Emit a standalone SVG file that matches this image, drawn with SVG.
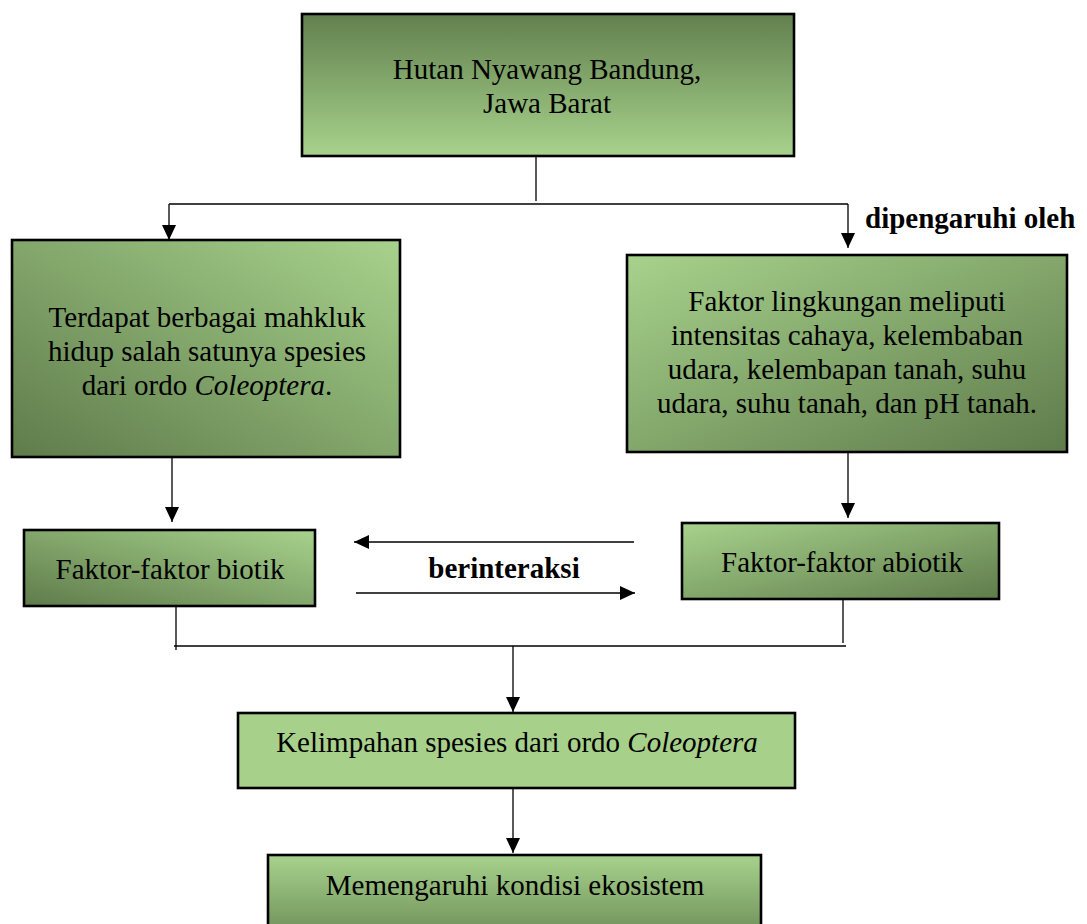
<svg xmlns="http://www.w3.org/2000/svg" width="1087" height="924" viewBox="0 0 1087 924">
  <defs>
    <linearGradient id="gV" x1="0" y1="0" x2="0" y2="1">
      <stop offset="0" stop-color="#62804e"/>
      <stop offset="1" stop-color="#a7d28c"/>
    </linearGradient>
    <linearGradient id="gVrev" x1="0" y1="0" x2="0" y2="1">
      <stop offset="0" stop-color="#a7d28c"/>
      <stop offset="1" stop-color="#62804e"/>
    </linearGradient>
    <linearGradient id="gBLdark" x1="0" y1="1" x2="1" y2="0">
      <stop offset="0" stop-color="#5f7b4b"/>
      <stop offset="1" stop-color="#a7d28c"/>
    </linearGradient>
    <linearGradient id="gBRdark" x1="0" y1="0" x2="1" y2="1">
      <stop offset="0" stop-color="#a7d28c"/>
      <stop offset="1" stop-color="#5f7b4b"/>
    </linearGradient>
    <marker id="arr" markerUnits="userSpaceOnUse" markerWidth="16" markerHeight="14" refX="15" refY="7" orient="auto">
      <path d="M0,0 L15,7 L0,14 z" fill="#000"/>
    </marker>
  </defs>
  <style>
    .box { stroke: #000; stroke-width: 2.6; }
    .t { font-family: "Liberation Serif", "Times New Roman", serif; font-size: 29px; fill: #000; text-anchor: middle; }
    .b { font-family: "Liberation Serif", "Times New Roman", serif; font-size: 29px; font-weight: bold; fill: #000; }
    .c { stroke: #000; stroke-width: 1.3; fill: none; }
    .i { font-style: italic; }
  </style>

  <g id="connectors">
    <line class="c" x1="536" y1="156" x2="536" y2="201"/>
    <line class="c" x1="169" y1="204" x2="848" y2="204"/>
    <line class="c" x1="169" y1="204" x2="169" y2="240" marker-end="url(#arr)"/>
    <line class="c" x1="848" y1="204" x2="848" y2="248" marker-end="url(#arr)"/>
    <line class="c" x1="172" y1="457" x2="172" y2="522" marker-end="url(#arr)"/>
    <line class="c" x1="848" y1="452" x2="848" y2="518" marker-end="url(#arr)"/>
    <line class="c" x1="634" y1="542" x2="354" y2="542" marker-end="url(#arr)"/>
    <line class="c" x1="356" y1="593" x2="635" y2="593" marker-end="url(#arr)"/>
    <line class="c" x1="176" y1="606" x2="176" y2="650"/>
    <line class="c" x1="843" y1="599" x2="843" y2="643"/>
    <line class="c" x1="174" y1="646" x2="846" y2="646"/>
    <line class="c" x1="513" y1="646" x2="513" y2="712" marker-end="url(#arr)"/>
    <line class="c" x1="513" y1="788" x2="513" y2="853" marker-end="url(#arr)"/>
    <text class="b" x="865" y="228">dipengaruhi oleh</text>
    <text class="b" x="504" y="578" text-anchor="middle">berinteraksi</text>
  </g>

  <g id="node-hutan">
    <rect class="box" x="302" y="14" width="492" height="142" fill="url(#gV)"/>
    <text class="t" x="547" y="79">Hutan Nyawang Bandung,</text>
    <text class="t" x="547" y="113">Jawa Barat</text>
  </g>

  <g id="node-mahkluk">
    <rect class="box" x="12" y="240" width="388" height="217" fill="url(#gBLdark)"/>
    <text class="t" x="207" y="327">Terdapat berbagai mahkluk</text>
    <text class="t" x="207" y="361">hidup salah satunya spesies</text>
    <text class="t" x="207" y="395">dari ordo <tspan class="i">Coleoptera</tspan>.</text>
  </g>

  <g id="node-lingkungan">
    <rect class="box" x="627" y="255" width="440" height="197" fill="url(#gBRdark)"/>
    <text class="t" x="847" y="311">Faktor lingkungan meliputi</text>
    <text class="t" x="847" y="345">intensitas cahaya, kelembaban</text>
    <text class="t" x="847" y="379">udara, kelembapan tanah, suhu</text>
    <text class="t" x="847" y="413">udara, suhu tanah, dan pH tanah.</text>
  </g>

  <g id="node-biotik">
    <rect class="box" x="24" y="530" width="291" height="76" fill="url(#gBLdark)"/>
    <text class="t" x="170" y="579">Faktor-faktor biotik</text>
  </g>

  <g id="node-abiotik">
    <rect class="box" x="682" y="523" width="317" height="76" fill="url(#gBRdark)"/>
    <text class="t" x="842" y="572">Faktor-faktor abiotik</text>
  </g>

  <g id="node-kelimpahan">
    <rect class="box" x="238" y="713" width="557" height="75" fill="#a7d08b"/>
    <text class="t" x="517" y="752">Kelimpahan spesies dari ordo <tspan class="i">Coleoptera</tspan></text>
  </g>

  <g id="node-memengaruhi">
    <rect class="box" x="268" y="855" width="493" height="100" fill="url(#gVrev)"/>
    <text class="t" x="515" y="895">Memengaruhi kondisi ekosistem</text>
  </g>
</svg>
